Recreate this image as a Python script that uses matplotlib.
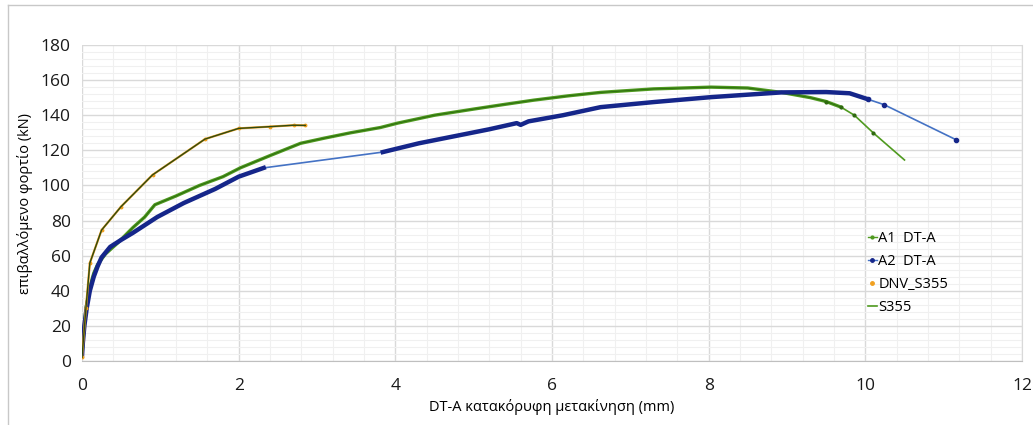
import matplotlib.pyplot as plt
from matplotlib.lines import Line2D
from matplotlib.ticker import MultipleLocator

# A1 DT-A (green test curve)
a1_x = [0, 0.02, 0.05, 0.1, 0.15, 0.2, 0.3, 0.45, 0.65, 0.8, 0.93, 1.2, 1.5, 1.8, 2.02,
        2.4, 2.79, 3.1, 3.43, 3.81, 4.03, 4.5, 5.0, 5.4, 5.77, 6.2, 6.62, 7.3, 8.03, 8.5,
        8.93, 9.3, 9.5, 9.69, 9.86, 10.1, 10.5]
a1_y = [3, 15, 30, 42, 50, 55, 61, 67, 76, 82, 89, 94, 100, 105, 110,
        117, 124, 127, 130, 133, 135.5, 140, 143.5, 146.2, 148.6, 151, 153, 155, 156, 155.5,
        153, 150, 147.8, 144.6, 140, 130, 114.5]
a1_dense_end = 34

# A2 DT-A (blue test curve), gap between 2.32 and 3.84
a2_x = [0, 0.01, 0.03, 0.06, 0.1, 0.15, 0.2, 0.25, 0.36, 0.5, 0.65, 0.96, 1.3, 1.7, 2.0,
        2.32, 3.84, 4.3, 4.75, 5.2, 5.55, 5.6, 5.7, 6.14, 6.62, 7.3, 8.03, 8.93, 9.5,
        9.8, 10.04, 10.24, 11.16]
a2_y = [3, 10, 20, 30, 40, 48, 54, 59, 65, 69, 73, 82, 90, 98, 105,
        110, 119, 124, 128, 132, 135.5, 134.5, 136.5, 140, 144.6, 147.5, 150.3, 153, 153.2,
        152.5, 149, 146, 126]
a2_gap = 16
a2_dense_end = 31

# DNV_S355 / S355 design curve
dnv_x = [0, 0.05, 0.1, 0.25, 0.5, 0.9, 1.57, 2.0, 2.4, 2.7, 2.85]
dnv_y = [2, 30, 55.8, 74.6, 88, 106, 126.4, 132.5, 133.5, 134.3, 134.2]

green = '#4f9a1f'
navy = '#15268a'
blue = '#4472c4'
orange = '#f0a020'
olive = '#2e4a12'

plt.rcParams['font.family'] = ['Open Sans', 'DejaVu Sans']

fig = plt.figure(figsize=(10.33, 4.25), dpi=100)
ax = fig.add_axes([82 / 1033, 1 - 361 / 425, (1022 - 82) / 1033, (361 - 45) / 425])

# outer chart border
fig.add_artist(Line2D([8 / 1033, 1], [1 - 5 / 425, 1 - 5 / 425], color='#c8c8c8', lw=1))
fig.add_artist(Line2D([8 / 1033, 8 / 1033], [0, 1 - 5 / 425], color='#c8c8c8', lw=1))

# A1
ax.plot(a1_x, a1_y, color=green, lw=1.2, zorder=3)
ax.plot(a1_x[:a1_dense_end], a1_y[:a1_dense_end], color=green, lw=2.4, zorder=3)
ax.plot(a1_x[:a1_dense_end], a1_y[:a1_dense_end], color='#2f7010', lw=0.8, zorder=3)
ax.plot(a1_x[a1_dense_end - 2:-1], a1_y[a1_dense_end - 2:-1], ls='none', marker='o',
        ms=2, color='#2f6a10', zorder=3)

# A2
ax.plot(a2_x, a2_y, color=blue, lw=1.2, zorder=4)
ax.plot(a2_x[:a2_gap], a2_y[:a2_gap], color=navy, lw=3.2, zorder=4)
ax.plot(a2_x[a2_gap:a2_dense_end], a2_y[a2_gap:a2_dense_end], color=navy, lw=3.2, zorder=4)
ax.plot(a2_x[a2_dense_end - 1:], a2_y[a2_dense_end - 1:], ls='none', marker='o',
        ms=3, color=navy, zorder=4)

# DNV / S355
ax.plot(dnv_x, dnv_y, color=orange, lw=1.6, marker='o', ms=1.8, zorder=5)
ax.plot(dnv_x, dnv_y, color=olive, lw=1.0, zorder=5)

ax.set_xlim(0, 12)
ax.set_ylim(0, 180)
ax.xaxis.set_major_locator(MultipleLocator(2))
ax.xaxis.set_minor_locator(MultipleLocator(0.4))
ax.yaxis.set_major_locator(MultipleLocator(20))
ax.yaxis.set_minor_locator(MultipleLocator(4))
ax.grid(which='major', color='#d9d9d9', lw=1)
ax.grid(which='minor', color='#f0f0f0', lw=0.8)
ax.set_axisbelow(True)
for s in ['top', 'left']:
    ax.spines[s].set_visible(False)
ax.spines['bottom'].set_color('#bfbfbf')
ax.spines['right'].set_color('#d9d9d9')
ax.tick_params(which='both', length=0, labelsize=12.5, colors='#1a1a1a', pad=8)
ax.tick_params(axis='x', pad=12)

ax.set_xlabel('DT-A κατακόρυφη μετακίνηση (mm)', fontsize=10.5, labelpad=4)
ax.set_ylabel('επιβαλλόμενο φορτίο (kN)', fontsize=10.5, labelpad=6)

handles = [
    Line2D([], [], color=green, lw=1, marker='o', ms=2),
    Line2D([], [], color=blue, lw=1, marker='o', ms=2.5, mfc=navy, mec=navy),
    Line2D([], [], color='none', marker='o', ms=2.5, mfc=orange, mec=orange),
    Line2D([], [], color=green, lw=1.2),
]
labels = ['A1  DT-A', 'A2  DT-A', 'DNV_S355', 'S355']
ax.legend(handles, labels, loc='upper left', bbox_to_anchor=(0.83, 0.43), frameon=False,
          fontsize=10.5, handlelength=0.6, handletextpad=0.1, labelspacing=0.55,
          borderaxespad=0)

fig.savefig('out.png', dpi=100, facecolor='white')
